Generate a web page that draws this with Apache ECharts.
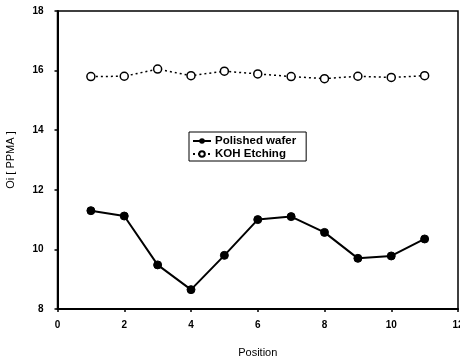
<!DOCTYPE html>
<html><head><meta charset="utf-8">
<script src="https://cdn.jsdelivr.net/npm/echarts@6/dist/echarts.min.js"></script>
<style>html,body{margin:0;padding:0;background:#fff}#c{width:460px;height:360px}</style>
</head><body><div id="c"></div>
<script>
const positions = [1,2,3,4,5,6,7,8,9,10,11];
const polished = [11.3,11.12,9.48,8.65,9.8,11.0,11.1,10.57,9.7,9.78,10.35];
const koh = [15.8,15.81,16.05,15.83,15.98,15.89,15.8,15.73,15.81,15.77,15.83];
const seriesNames = ['Polished wafer','KOH Etching'];
const xTitle = 'Position';
const yTitle = 'Oi [ PPMA ]';

const chart = echarts.init(document.getElementById('c'));
const font = '"Liberation Sans Narrow", "Liberation Sans", Arial, sans-serif';
const sans = '"Liberation Sans", Arial, sans-serif';
chart.setOption({
  animation:false,
  backgroundColor:'#fff',
  grid:{left:57.5,right:2,top:11,bottom:51,show:true,borderColor:'#000',borderWidth:1.5,
        containLabel:false,outerBoundsMode:'none'},
  legend:{
    orient:'vertical',left:189,top:132,
    data:seriesNames,
    borderColor:'#000',borderWidth:1,padding:[3,10,1,3],itemGap:1,
    itemWidth:18,itemHeight:7,
    textStyle:{fontFamily:sans,fontSize:11.5,lineHeight:10,fontWeight:'bold',color:'#000',padding:[0,0,0,-1]}
  },
  xAxis:{type:'value',min:0,max:12,interval:2,
    name:xTitle,nameLocation:'middle',nameGap:38,
    nameTextStyle:{fontFamily:sans,fontSize:11,color:'#000'},
    axisLine:{lineStyle:{color:'#000',width:2}},
    axisTick:{show:true,length:3,lineStyle:{color:'#000',width:1.5}},
    axisLabel:{fontFamily:font,fontSize:10,fontWeight:'bold',color:'#000',margin:11},
    splitLine:{show:false}},
  yAxis:{type:'value',min:8,max:18,interval:2,
    name:yTitle,nameLocation:'middle',nameGap:41,nameRotate:90,
    nameTextStyle:{fontFamily:sans,fontSize:11,color:'#000'},
    axisLine:{show:true,lineStyle:{color:'#000',width:2}},
    axisTick:{show:true,length:3,lineStyle:{color:'#000',width:1.5}},
    axisLabel:{fontFamily:font,fontSize:10,fontWeight:'bold',color:'#000',margin:14},
    splitLine:{show:false}},
  series:[
    {name:seriesNames[0],type:'line',data:positions.map((p,i)=>[p,polished[i]]),
     symbol:'circle',symbolSize:8,
     itemStyle:{color:'#000',borderColor:'#000'},
     lineStyle:{color:'#000',width:2}},
    {name:seriesNames[1],type:'line',data:positions.map((p,i)=>[p,koh[i]]),
     symbol:'circle',symbolSize:8,
     itemStyle:{color:'#fff',borderColor:'#000',borderWidth:1.5},
     lineStyle:{color:'#000',width:1.5,type:[2,3]}}
  ]
});
</script></body></html>
